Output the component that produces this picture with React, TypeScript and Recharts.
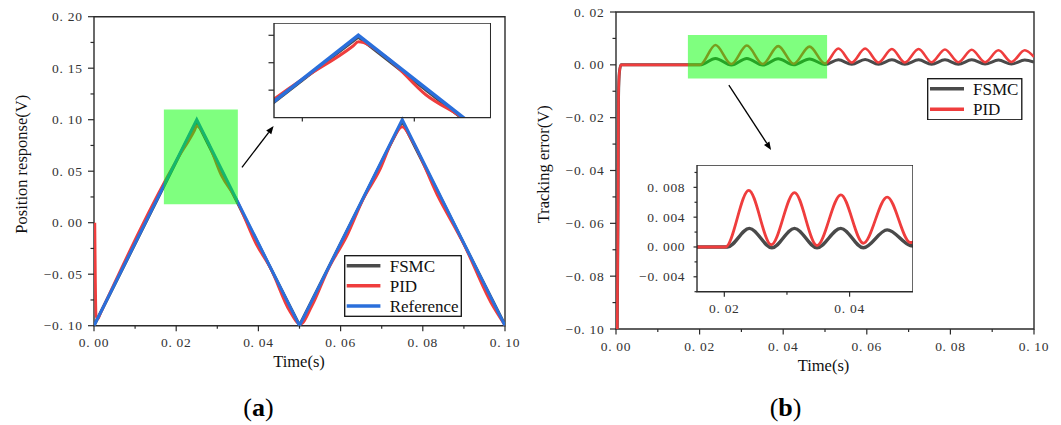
import React from 'react';
import { LineChart, Line, XAxis, YAxis, ReferenceArea, ReferenceLine, Legend } from 'recharts';

// ---------------- series styling ----------------
const SERIES_NAMES = ['FSMC', 'PID', 'Reference'];
const SERIES_COLORS = ['#4a4a4a', '#ef3d3d', '#2a6fdb'];

// ---------------- panel (a): position response ----------------
const refATime = [0, 0.025, 0.05, 0.075, 0.1];
const refAValue = [-0.1, 0.1, -0.1, 0.1, -0.1];

const fsmcATime = [0, 0.022, 0.025, 0.028, 0.034, 0.05, 0.072, 0.075, 0.078, 0.1];
const fsmcAValue = [-0.1, 0.075, 0.0985, 0.0745, 0.0265, -0.0995, 0.075, 0.0985, 0.0745, -0.0995];

const pidATime = [0.0002, 0.0005, 0.0009, 0.0016, 0.02, 0.0245, 0.025, 0.0275, 0.031, 0.0345, 0.0395, 0.043, 0.0475, 0.0502,
  0.053, 0.057, 0.0615, 0.0655, 0.0695, 0.0725, 0.075, 0.0775, 0.0835, 0.09, 0.0965, 0.1];
const pidAValue = [0, -0.09, -0.0935, -0.0875, 0.06, 0.09, 0.094, 0.08, 0.046, 0.0235, -0.021, -0.0445, -0.085, -0.0985,
  -0.081, -0.045, -0.013, 0.023, 0.051, 0.079, 0.093, 0.079, 0.027, -0.021, -0.077, -0.0995];

// ---------------- panel (b): tracking error ----------------
const errBTime = [0.0003, 0.0005, 0.0006, 0.0008, 0.0012, 0.0201, 0.0238, 0.0276, 0.0313, 0.0351, 0.0388, 0.0425, 0.0463,
  0.05, 0.0532, 0.0564, 0.0596, 0.0628, 0.066, 0.0691, 0.0724, 0.0755, 0.0787, 0.0819, 0.0851, 0.0883, 0.0915, 0.0946,
  0.0978, 0.1];
const pidBValue = [-0.1, -0.05, -0.012, -0.003, 0, 0, 0.0075, 0.0003, 0.0073, 0.0003, 0.0071, 0.0004, 0.0069,
  0.0005, 0.0062, 0.0009, 0.0062, 0.0009, 0.006, 0.0009, 0.006, 0.001, 0.0058, 0.001, 0.0057, 0.001, 0.0055, 0.0011,
  0.0055, 0.003];
const fsmcBValue = [-0.1, -0.05, -0.012, -0.003, 0, 0, 0.0024, -0.0001, 0.0024, -0.0001, 0.0023, 0, 0.0022,
  0.0001, 0.0019, 0.0002, 0.002, 0.0002, 0.0019, 0.0002, 0.0019, 0.0002, 0.0019, 0.0002, 0.0019, 0.0003, 0.0018, 0.0003,
  0.0018, 0.001];

// inset of panel (b)
const pidBInsetTime = [0.015, 0.0202, 0.0239, 0.0275, 0.0312, 0.0348, 0.0386, 0.0422, 0.046, 0.0497, 0.0505];
const pidBInsetValue = [0, 0, 0.0076, 0.0003, 0.0073, 0.0002, 0.007, 0.0005, 0.0067, 0.0006, 0.0007];
const fsmcBInsetTime = [0.015, 0.0205, 0.024, 0.0276, 0.0312, 0.0348, 0.0386, 0.0422, 0.046, 0.0497, 0.0505];
const fsmcBInsetValue = [0, 0, 0.0025, -0.0001, 0.0025, -0.0001, 0.0025, -0.0001, 0.0023, 0.0002, 0.0001];

// ---------------- ticks ----------------
const timeMajor = [0, 0.02, 0.04, 0.06, 0.08, 0.1];
const timeLabels = ['0. 00', '0. 02', '0. 04', '0. 06', '0. 08', '0. 10'];
const timeMinor = [0.01, 0.03, 0.05, 0.07, 0.09];

const posMajor = [-0.1, -0.05, 0, 0.05, 0.1, 0.15, 0.2];
const posLabels = ['\u22120. 10', '\u22120. 05', '0. 00', '0. 05', '0. 10', '0. 15', '0. 20'];
const posMinor = [-0.075, -0.025, 0.025, 0.075, 0.125, 0.175];

const errMajor = [-0.1, -0.08, -0.06, -0.04, -0.02, 0, 0.02];
const errLabels = ['\u22120. 10', '\u22120. 08', '\u22120. 06', '\u22120. 04', '\u22120. 02', '0. 00', '0. 02'];
const errMinor = [-0.09, -0.07, -0.05, -0.03, -0.01, 0.01];

const insetATimeTicks = [0.02, 0.03];
const insetAPosTicks = [0.05, 0.075, 0.1];

const insetBTimeMajor = [0.02, 0.04];
const insetBTimeLabels = ['0. 02', '0. 04'];
const insetBTimeMinor = [0.03];
const insetBErrMajor = [-0.004, 0, 0.004, 0.008];
const insetBErrLabels = ['\u22120. 004', '0. 000', '0. 004', '0. 008'];
const insetBErrMinor = [-0.006, -0.002, 0.002, 0.006, 0.01];

// ---------------- annotations (data coordinates) ----------------
const greenA = { x1: 0.017, x2: 0.035, y1: 0.018, y2: 0.11 };
const greenB = { x1: 0.0172, x2: 0.0505, y1: -0.0052, y2: 0.0113 };
const arrowA = [{ x: 0.036, y: 0.0538 }, { x: 0.0437, y: 0.0939 }];
const arrowB = [{ x: 0.027, y: -0.0077 }, { x: 0.0371, y: -0.0322 }];

// ---------------- helpers ----------------
const pts = (ts: number[], vs: number[]) => ts.map((t, i) => ({ t, v: vs[i] }));
const refA = pts(refATime, refAValue);
const fsmcA = pts(fsmcATime, fsmcAValue);
const pidA = pts(pidATime, pidAValue);
const pidB = pts(errBTime, pidBValue);
const fsmcB = pts(errBTime, fsmcBValue);
const pidBI = pts(pidBInsetTime, pidBInsetValue);
const fsmcBI = pts(fsmcBInsetTime, fsmcBInsetValue);

const AXIS = '#2b2b2b';
const SERIF = "'Liberation Serif', 'Times New Roman', serif";
const near = (a: number, b: number) => Math.abs(a - b) < 1e-9;
const sortTicks = (a: number[], b: number[]) => [...a, ...b].sort((p, q) => p - q);

type TickCfg = { majors: number[]; labels?: string[]; majorLen: number; minorLen: number; offset: number };

const TICK_FONT = { fontFamily: SERIF, fontSize: 13.5, letterSpacing: 0.7, fill: '#333' };

const xTick = (cfg: TickCfg) => (props: any) => {
  const { x, y, payload } = props;
  const idx = cfg.majors.findIndex((m) => near(m, payload.value));
  const major = idx >= 0;
  return (
    <g>
      <line x1={x} x2={x} y1={y} y2={y + (major ? cfg.majorLen : cfg.minorLen)} stroke={AXIS} strokeWidth={1.2} />
      {major && cfg.labels ? (
        <text x={x} y={y + cfg.offset} textAnchor="middle" {...TICK_FONT}>
          {cfg.labels[idx]}
        </text>
      ) : null}
    </g>
  );
};

const yTick = (cfg: TickCfg) => (props: any) => {
  const { x, y, payload } = props;
  const idx = cfg.majors.findIndex((m) => near(m, payload.value));
  const major = idx >= 0;
  return (
    <g>
      <line x1={x} x2={x - (major ? cfg.majorLen : cfg.minorLen)} y1={y} y2={y} stroke={AXIS} strokeWidth={1.2} />
      {major && cfg.labels ? (
        <text x={x - cfg.offset} y={y + 4.5} textAnchor="end" {...TICK_FONT}>
          {cfg.labels[idx]}
        </text>
      ) : null}
    </g>
  );
};

const Arrow = (p: any) => {
  const { x1, y1, x2, y2 } = p;
  const ang = Math.atan2(y2 - y1, x2 - x1);
  const L = 8;
  const W = 3.2;
  const bx = x2 - L * Math.cos(ang);
  const by = y2 - L * Math.sin(ang);
  const nx = -Math.sin(ang) * W;
  const ny = Math.cos(ang) * W;
  return (
    <g>
      <line x1={x1} y1={y1} x2={bx} y2={by} stroke="#000" strokeWidth={1.3} />
      <polygon points={`${x2},${y2} ${bx + nx},${by + ny} ${bx - nx},${by - ny}`} fill="#000" />
    </g>
  );
};

type LegendCfg = { w: number; h: number; lx1: number; lx2: number; tx: number; rows: number[] };
const legendContent = (cfg: LegendCfg) => (props: any) => {
  const payload = props.payload || [];
  return (
    <svg width={cfg.w} height={cfg.h} style={{ display: 'block' }}>
      <rect x={0.7} y={0.7} width={cfg.w - 1.4} height={cfg.h - 1.4} fill="#fff" stroke="#111" strokeWidth={1.3} />
      {payload.map((e: any, i: number) => (
        <g key={String(e.value)}>
          <line x1={cfg.lx1} x2={cfg.lx2} y1={cfg.rows[i]} y2={cfg.rows[i]} stroke={e.color} strokeWidth={3.6} />
          <text x={cfg.tx} y={cfg.rows[i] + 5.8} fontFamily={SERIF} fontSize={17} fill="#111">
            {e.value}
          </text>
        </g>
      ))}
    </svg>
  );
};

const lineCommon = { dot: false, activeDot: false, isAnimationActive: false, dataKey: 'v' } as const;

function PanelA() {
  return (
    <div style={{ position: 'absolute', left: 0, top: 0 }}>
      <LineChart width={530} height={425} margin={{ top: 16.7, right: 25, bottom: 59.3, left: 0 }}>
        <XAxis type="number" dataKey="t" domain={[0, 0.1]} allowDataOverflow ticks={sortTicks(timeMajor, timeMinor)}
          interval={0} tickSize={0} tickMargin={0} axisLine={false} tickLine={false} height={40}
          tick={xTick({ majors: timeMajor, labels: timeLabels, majorLen: 5.5, minorLen: 3, offset: 21 })} />
        <YAxis type="number" domain={[-0.1, 0.2]} allowDataOverflow ticks={sortTicks(posMajor, posMinor)}
          interval={0} tickSize={0} tickMargin={0} axisLine={false} tickLine={false} width={94}
          tick={yTick({ majors: posMajor, labels: posLabels, majorLen: 6, minorLen: 3.5, offset: 11.4 })} />
        <ReferenceArea x1={0} x2={0.1} y1={-0.1} y2={0.2} fill="none" stroke={AXIS} strokeWidth={1.4} ifOverflow="visible" />
        <Line {...lineCommon} data={fsmcA} type="linear" name={SERIES_NAMES[0]} stroke={SERIES_COLORS[0]} strokeWidth={3} />
        <Line {...lineCommon} data={pidA} type="monotone" name={SERIES_NAMES[1]} stroke={SERIES_COLORS[1]} strokeWidth={2.8} />
        <Line {...lineCommon} data={refA} type="linear" name={SERIES_NAMES[2]} stroke={SERIES_COLORS[2]} strokeWidth={3} />
        <ReferenceArea {...greenA} fill="#00ff00" fillOpacity={0.5} stroke="none" zIndex={900} />
        <ReferenceLine segment={arrowA} shape={Arrow} ifOverflow="visible" zIndex={900} />
        <Legend layout="vertical" align="center" verticalAlign="middle"
          wrapperStyle={{ position: 'absolute', left: 344.3, top: 255.3, width: 118, height: 62 }}
          content={legendContent({ w: 118, h: 62, lx1: 2.7, lx2: 36.4, tx: 45.7, rows: [10.7, 30.7, 51] })} />
      </LineChart>
    </div>
  );
}

function InsetA() {
  return (
    <div style={{ position: 'absolute', left: 264, top: 22.7 }}>
      <LineChart width={226.7} height={104.6} margin={{ top: 0, right: 0, bottom: 0, left: 0 }}>
        <XAxis type="number" dataKey="t" domain={[0.01747, 0.03682]} allowDataOverflow ticks={insetATimeTicks}
          interval={0} tickSize={0} tickMargin={0} axisLine={false} tickLine={false} height={10}
          tick={xTick({ majors: insetATimeTicks, majorLen: 4, minorLen: 4, offset: 0 })} />
        <YAxis type="number" domain={[0.025, 0.1112]} allowDataOverflow ticks={insetAPosTicks}
          interval={0} tickSize={0} tickMargin={0} axisLine={false} tickLine={false} width={10}
          tick={yTick({ majors: insetAPosTicks, majorLen: 5.5, minorLen: 5.5, offset: 0 })} />
        <Line {...lineCommon} data={fsmcA} type="linear" stroke={SERIES_COLORS[0]} strokeWidth={3.2} />
        <Line {...lineCommon} data={pidA} type="monotone" stroke={SERIES_COLORS[1]} strokeWidth={3} />
        <Line {...lineCommon} data={refA} type="linear" stroke={SERIES_COLORS[2]} strokeWidth={3.6} />
        <ReferenceArea x1={0.01747} x2={0.03682} y1={0.025} y2={0.1112} fill="none" stroke={AXIS} strokeWidth={1.4} ifOverflow="visible" zIndex={900} />
      </LineChart>
    </div>
  );
}

function PanelB() {
  return (
    <div style={{ position: 'absolute', left: 530, top: 0 }}>
      <LineChart width={531} height={425} margin={{ top: 12, right: 27, bottom: 56, left: 0 }}>
        <XAxis type="number" dataKey="t" domain={[0, 0.1]} allowDataOverflow ticks={sortTicks(timeMajor, timeMinor)}
          interval={0} tickSize={0} tickMargin={0} axisLine={false} tickLine={false} height={40}
          tick={xTick({ majors: timeMajor, labels: timeLabels, majorLen: 5.5, minorLen: 3, offset: 21.5 })} />
        <YAxis type="number" domain={[-0.1, 0.02]} allowDataOverflow ticks={sortTicks(errMajor, errMinor)}
          interval={0} tickSize={0} tickMargin={0} axisLine={false} tickLine={false} width={86}
          tick={yTick({ majors: errMajor, labels: errLabels, majorLen: 6, minorLen: 3.5, offset: 11.6 })} />
        <ReferenceArea x1={0} x2={0.1} y1={-0.1} y2={0.02} fill="none" stroke={AXIS} strokeWidth={1.4} ifOverflow="visible" />
        <Line {...lineCommon} data={fsmcB} type="monotone" name={SERIES_NAMES[0]} stroke={SERIES_COLORS[0]} strokeWidth={3} />
        <Line {...lineCommon} data={pidB} type="monotone" name={SERIES_NAMES[1]} stroke={SERIES_COLORS[1]} strokeWidth={2.6} />
        <ReferenceArea {...greenB} fill="#00ff00" fillOpacity={0.5} stroke="none" zIndex={900} />
        <ReferenceLine segment={arrowB} shape={Arrow} ifOverflow="visible" zIndex={900} />
        <Legend layout="vertical" align="center" verticalAlign="middle"
          wrapperStyle={{ position: 'absolute', left: 397, top: 77.5, width: 95.5, height: 42.5 }}
          content={legendContent({ w: 95.5, h: 42.5, lx1: 3, lx2: 37, tx: 46, rows: [10.8, 31.2] })} />
      </LineChart>
    </div>
  );
}

function InsetB() {
  return (
    <div style={{ position: 'absolute', left: 636.7, top: 165 }}>
      <LineChart width={276} height={156.7} margin={{ top: 0, right: 0, bottom: 0, left: 0 }}>
        <XAxis type="number" dataKey="t" domain={[0.01564, 0.05012]} allowDataOverflow
          ticks={sortTicks(insetBTimeMajor, insetBTimeMinor)} interval={0} tickSize={0} tickMargin={0}
          axisLine={false} tickLine={false} height={30}
          tick={xTick({ majors: insetBTimeMajor, labels: insetBTimeLabels, majorLen: 5, minorLen: 3, offset: 21 })} />
        <YAxis type="number" domain={[-0.006, 0.011]} allowDataOverflow ticks={sortTicks(insetBErrMajor, insetBErrMinor)}
          interval={0} tickSize={0} tickMargin={0} axisLine={false} tickLine={false} width={60}
          tick={yTick({ majors: insetBErrMajor, labels: insetBErrLabels, majorLen: 3.5, minorLen: 2.5, offset: 11.7 })} />
        <Line {...lineCommon} data={fsmcBI} type="monotone" stroke={SERIES_COLORS[0]} strokeWidth={3.4} />
        <Line {...lineCommon} data={pidBI} type="monotone" stroke={SERIES_COLORS[1]} strokeWidth={2.8} />
        <ReferenceArea x1={0.01564} x2={0.05012} y1={-0.006} y2={0.011} fill="none" stroke={AXIS} strokeWidth={1.4} ifOverflow="visible" zIndex={900} />
      </LineChart>
    </div>
  );
}

function Titles() {
  return (
    <svg width={1061} height={425} style={{ position: 'absolute', left: 0, top: 0, pointerEvents: 'none' }}>
      <text x={27.5} y={164.2} transform="rotate(-90 27.5 164.2)" textAnchor="middle" fontFamily={SERIF} fontSize={16.5} fill="#111">
        Position response(V)
      </text>
      <text x={299} y={366.5} textAnchor="middle" fontFamily={SERIF} fontSize={16.5} fill="#111">Time(s)</text>
      <text x={549} y={164.3} transform="rotate(-90 549 164.3)" textAnchor="middle" fontFamily={SERIF} fontSize={16.5} fill="#111">
        Tracking error(V)
      </text>
      <text x={823.5} y={370.5} textAnchor="middle" fontFamily={SERIF} fontSize={16.5} fill="#111">Time(s)</text>
      <text x={258.5} y={416} textAnchor="middle" fontFamily={SERIF} fontSize={26} fill="#000">
        (<tspan fontWeight="bold">a</tspan>)
      </text>
      <text x={785.6} y={416} textAnchor="middle" fontFamily={SERIF} fontSize={26} fill="#000">
        (<tspan fontWeight="bold">b</tspan>)
      </text>
    </svg>
  );
}

export default function App() {
  return (
    <div style={{ position: 'absolute', left: 0, top: 0, width: 1061, height: 425, background: '#fff' }}>
      <PanelA />
      <PanelB />
      <InsetA />
      <InsetB />
      <Titles />
    </div>
  );
}
